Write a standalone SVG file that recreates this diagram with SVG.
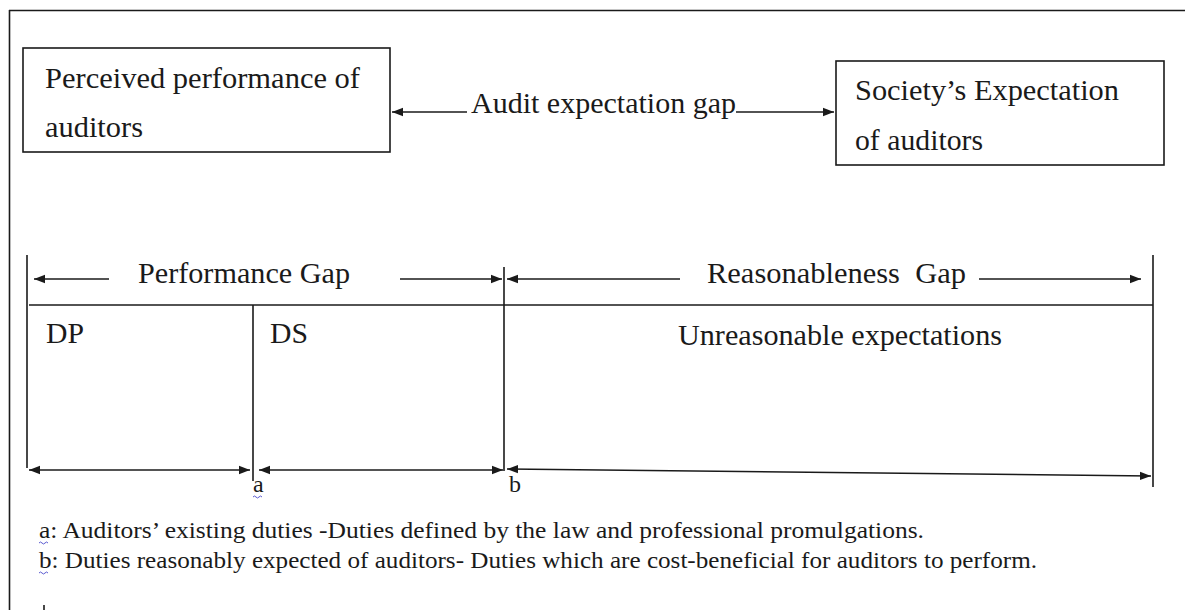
<svg xmlns="http://www.w3.org/2000/svg" width="1185" height="610" viewBox="0 0 1185 610">
  <style>
    .t { font-family: "Liberation Serif", "Times New Roman", serif; font-size: 29px; fill: #1a1a1a; white-space: pre; }
    .f { font-family: "Liberation Serif", "Times New Roman", serif; font-size: 24px; fill: #1a1a1a; }
    .box { fill: #ffffff; stroke: #1a1a1a; stroke-width: 1.6; }
    .ln { stroke: #1a1a1a; stroke-width: 1.6; fill: none; }
    .sq { stroke: #5a5ad0; stroke-width: 1; fill: none; }
  </style>
  <defs>
    <marker id="ah" markerUnits="userSpaceOnUse" markerWidth="12" markerHeight="10" refX="11" refY="5" orient="auto-start-reverse">
      <path d="M0,0.8 L11,5 L0,9.2 Z" fill="#1a1a1a"/>
    </marker>
  </defs>
  <rect width="1185" height="610" fill="#ffffff"/>

  <g id="frame">
    <line class="ln" x1="9" y1="10.5" x2="1185" y2="10.5" stroke-width="2"/>
    <line class="ln" x1="9.5" y1="10" x2="9.5" y2="610" stroke-width="2"/>
  </g>

  <g id="node-perceived">
    <rect class="box" x="23" y="48" width="367" height="104"/>
    <text class="t" x="45" y="88" textLength="315" lengthAdjust="spacingAndGlyphs">Perceived performance of</text>
    <text class="t" x="45" y="137" textLength="98" lengthAdjust="spacingAndGlyphs">auditors</text>
  </g>

  <g id="node-society">
    <rect class="box" x="836" y="61" width="328" height="104"/>
    <text class="t" x="855" y="100" textLength="264" lengthAdjust="spacingAndGlyphs">Society’s Expectation</text>
    <text class="t" x="855" y="150" textLength="128" lengthAdjust="spacingAndGlyphs">of auditors</text>
  </g>

  <g id="label-audit-gap">
    <text class="t" x="471" y="113" textLength="265" lengthAdjust="spacingAndGlyphs">Audit expectation gap</text>
  </g>

  <g id="table">
    <line class="ln" x1="27" y1="255" x2="27" y2="468"/>
    <line class="ln" x1="504" y1="267" x2="504" y2="471"/>
    <line class="ln" x1="1153" y1="255" x2="1153" y2="487"/>
    <line class="ln" x1="29" y1="305" x2="1153" y2="305"/>
    <line class="ln" x1="253" y1="305" x2="253" y2="481"/>
    <text class="t" x="138" y="283" textLength="212" lengthAdjust="spacingAndGlyphs">Performance Gap</text>
    <text class="t" x="707" y="283" textLength="259" lengthAdjust="spacingAndGlyphs">Reasonableness  Gap</text>
    <text class="t" x="46" y="343" textLength="38" lengthAdjust="spacingAndGlyphs">DP</text>
    <text class="t" x="270" y="343" textLength="38" lengthAdjust="spacingAndGlyphs">DS</text>
    <text class="t" x="678" y="345" textLength="324" lengthAdjust="spacingAndGlyphs">Unreasonable expectations</text>
    <text class="f" x="253" y="492">a</text>
    <path class="sq" d="M253,497 q1.5,-2 3,0 t3,0 t3,0"/>
    <text class="f" x="509" y="492">b</text>
  </g>

  <g id="connectors">
    <line class="ln" x1="392" y1="112" x2="467" y2="112" marker-start="url(#ah)"/>
    <line class="ln" x1="736" y1="112" x2="834" y2="112" marker-end="url(#ah)"/>
    <line class="ln" x1="34" y1="279" x2="109" y2="279" marker-start="url(#ah)"/>
    <line class="ln" x1="400" y1="279" x2="502" y2="279" marker-end="url(#ah)"/>
    <line class="ln" x1="507" y1="279" x2="680" y2="279" marker-start="url(#ah)"/>
    <line class="ln" x1="979" y1="279" x2="1141" y2="279" marker-end="url(#ah)"/>
    <line class="ln" x1="29" y1="470" x2="250" y2="470" marker-start="url(#ah)" marker-end="url(#ah)"/>
    <line class="ln" x1="259" y1="470" x2="503" y2="470" marker-start="url(#ah)" marker-end="url(#ah)"/>
    <line class="ln" x1="507" y1="469" x2="1151" y2="476" marker-start="url(#ah)" marker-end="url(#ah)"/>
  </g>

  <g id="footnotes">
    <text class="f" x="39" y="538" textLength="885" lengthAdjust="spacingAndGlyphs">a: Auditors’ existing duties -Duties defined by the law and professional promulgations.</text>
    <path class="sq" d="M39,543 q1.5,-2 3,0 t3,0 t3,0"/>
    <text class="f" x="39" y="568" textLength="998" lengthAdjust="spacingAndGlyphs">b: Duties reasonably expected of auditors- Duties which are cost-beneficial for auditors to perform.</text>
    <path class="sq" d="M39,573 q1.5,-2 3,0 t3,0 t3,0"/>
    <line class="ln" x1="44" y1="605" x2="44" y2="610" stroke-width="1.2"/>
  </g>
</svg>
